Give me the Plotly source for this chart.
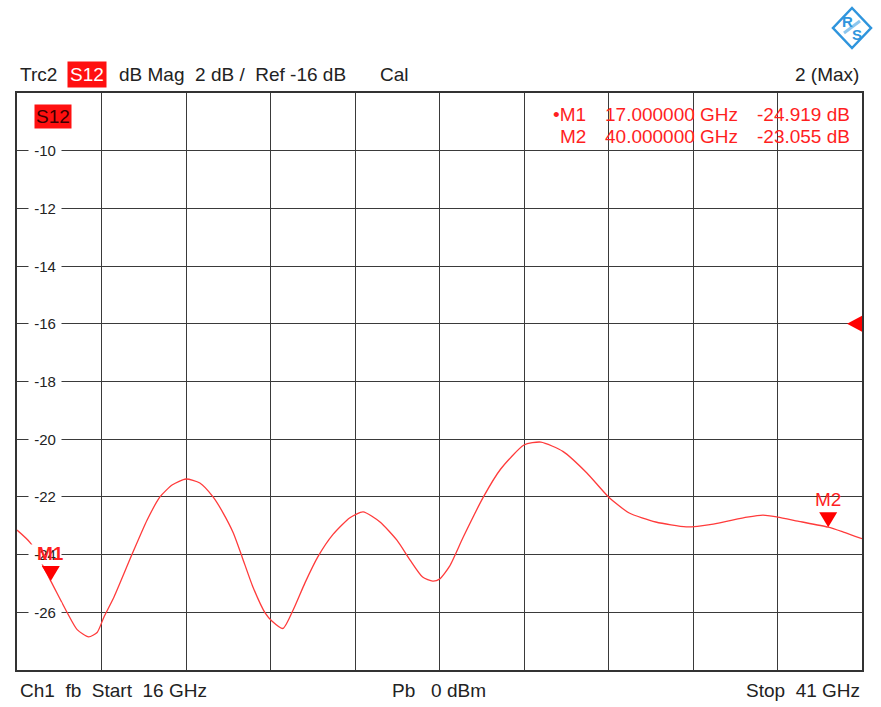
import plotly.graph_objects as go

# ---- data ----
freq_ghz = [16.0, 16.4, 17.0, 17.48, 17.78, 18.12, 18.37, 18.57, 18.87, 19.4, 19.85, 20.23, 20.6,
            21.0, 21.41, 21.8, 22.1, 22.4, 22.66, 22.98, 23.34, 23.54, 23.87, 24.17, 24.52, 24.9,
            25.35, 25.85, 26.24, 26.74, 27.24, 27.63, 28.0, 28.3, 28.5, 28.8, 29.2, 29.8, 30.3,
            31.0, 31.5, 32.16, 32.86, 33.5, 34.1, 34.9, 35.8, 36.6, 37.6, 38.07, 38.5, 39.1, 40.0,
            40.45, 41.0]
s12_db = [-23.15, -23.6, -24.92, -26.0, -26.6, -26.85, -26.7, -26.17, -25.47, -24.0, -22.8, -22.0,
          -21.58, -21.38, -21.52, -22.0, -22.56, -23.25, -24.08, -25.12, -26.02, -26.3, -26.56,
          -25.92, -24.98, -24.08, -23.3, -22.72, -22.52, -22.87, -23.5, -24.19, -24.78, -24.92,
          -24.85, -24.4, -23.4, -22.0, -21.05, -20.2, -20.1, -20.43, -21.17, -22.0, -22.55, -22.87,
          -23.04, -22.94, -22.7, -22.63, -22.7, -22.84, -23.05, -23.22, -23.45]

marker_names = ["M1", "M2"]
marker_freq = [17.0, 40.0]
marker_db = [-24.919, -23.055]

y_tick_vals = [-10, -12, -14, -16, -18, -20, -22, -24, -26]
x_start, x_stop, x_div = 16.0, 41.0, 2.5
y_min, y_max, y_div = -28.0, -8.0, 2.0
ref_level = -16.0

FONT = "Liberation Sans, Arial, sans-serif"
RED = "#ff1f1f"

fig = go.Figure()
fig.add_trace(go.Scatter(x=freq_ghz, y=s12_db, mode="lines",
                         line=dict(color="#ff3b3b", width=1.3, shape="spline", smoothing=0.6),
                         hoverinfo="skip", showlegend=False))

W, H = 881, 707
ml, mr, mt, mb = 17, 19, 93, 37
pw, ph = W - ml - mr, H - mt - mb

def px(x):
    return (x - ml) / pw

def py(y):
    return (H - mb - y) / ph

annotations = []
# y tick labels inside the plot with white background
for v in y_tick_vals:
    annotations.append(dict(x=px(45), y=v, xref="paper", yref="y", text="\u00a0%d\u00a0" % v,
                            showarrow=False, bgcolor="white", borderpad=1,
                            font=dict(family=FONT, size=15, color="#222"), xanchor="center", yanchor="middle"))

# header
hdr_y = py(74)
annotations += [
    dict(x=px(18), y=hdr_y, text="Trc2", xanchor="left"),
    dict(x=px(87), y=hdr_y, text="S12", xanchor="center", bgcolor="#ff1010", font_color="white", borderpad=2),
    dict(x=px(117), y=hdr_y, text="dB\u00a0Mag\u00a0\u00a02\u00a0dB\u00a0/\u00a0\u00a0Ref\u00a0-16\u00a0dB", xanchor="left"),
    dict(x=px(378), y=hdr_y, text="Cal", xanchor="left"),
    dict(x=px(861), y=hdr_y, text="2\u00a0(Max)", xanchor="right"),
]
# footer
ft_y = py(690)
annotations += [
    dict(x=px(18), y=ft_y, text="Ch1\u00a0\u00a0fb\u00a0\u00a0Start\u00a0\u00a016\u00a0GHz", xanchor="left"),
    dict(x=px(390), y=ft_y, text="Pb\u00a0\u00a0\u00a00\u00a0dBm", xanchor="left"),
    dict(x=px(862), y=ft_y, text="Stop\u00a0\u00a041\u00a0GHz", xanchor="right"),
]
for a in annotations[len(y_tick_vals):]:
    a.setdefault("xref", "paper")
    a.setdefault("yref", "paper")
    a.setdefault("showarrow", False)
    a.setdefault("yanchor", "middle")
    if "font_color" in a:
        a["font"] = dict(family=FONT, size=19, color=a.pop("font_color"))
    a.setdefault("font", dict(family=FONT, size=19, color="#222"))

# trace label inside plot
annotations.append(dict(x=px(53), y=py(117), xref="paper", yref="paper", text="S12", showarrow=False,
                        bgcolor="#ff1010", borderpad=1, font=dict(family=FONT, size=19, color="#3a0000"),
                        xanchor="center", yanchor="middle"))

# marker table
row_y = [py(114), py(136)]
for i, (n, f, d) in enumerate(zip(marker_names, marker_freq, marker_db)):
    name = ("\u2022" if i == 0 else "") + n
    annotations.append(dict(x=px(588), y=row_y[i], xref="paper", yref="paper", text=name, showarrow=False,
                            xanchor="right", yanchor="middle", font=dict(family=FONT, size=19, color=RED)))
    annotations.append(dict(x=px(740), y=row_y[i], xref="paper", yref="paper", text="%.6f\u00a0GHz" % f,
                            showarrow=False, xanchor="right", yanchor="middle", font=dict(family=FONT, size=19, color=RED)))
    annotations.append(dict(x=px(852), y=row_y[i], xref="paper", yref="paper", text="%.3f\u00a0dB" % d,
                            showarrow=False, xanchor="right", yanchor="middle", font=dict(family=FONT, size=19, color=RED)))

# marker labels on the trace
for i, (n, f, d) in enumerate(zip(marker_names, marker_freq, marker_db)):
    annotations.append(dict(x=f, y=d, xref="x", yref="y", text=("<b>%s</b>" % n) if i == 0 else n,
                            showarrow=False, yshift=28, xanchor="center", yanchor="middle",
                            font=dict(family=FONT, size=19, color=RED)))

# R&S logo letters
annotations.append(dict(x=px(847), y=py(22), xref="paper", yref="paper", text="<b>R</b>", showarrow=False,
                        font=dict(family=FONT, size=15, color="#2f95dd"), xanchor="center", yanchor="middle"))
annotations.append(dict(x=px(857), y=py(35), xref="paper", yref="paper", text="<b>S</b>", showarrow=False,
                        font=dict(family=FONT, size=15, color="#2f95dd"), xanchor="center", yanchor="middle"))

shapes = []
# marker triangles (tip on the trace point)
for f, d in zip(marker_freq, marker_db):
    shapes.append(dict(type="path", xref="x", yref="y", xsizemode="pixel", ysizemode="pixel",
                       xanchor=f, yanchor=d, path="M -9 15 L 9 15 L 0 0 Z",
                       fillcolor="#ff0000", line=dict(width=0)))
# reference level triangle on the right edge
shapes.append(dict(type="path", xref="paper", yref="y", xsizemode="pixel", ysizemode="pixel",
                   xanchor=1, yanchor=ref_level, path="M 0 8 L 0 -8 L -15 0 Z",
                   fillcolor="#ff0000", line=dict(width=0)))
# R&S logo diamond
shapes.append(dict(type="path", xref="paper", yref="paper", xsizemode="pixel", ysizemode="pixel",
                   xanchor=px(852), yanchor=py(28), path="M 0 20 L 19 0 L 0 -20 L -19 0 Z",
                   fillcolor="white", line=dict(color="#2f95dd", width=2.5)))
shapes.append(dict(type="path", xref="paper", yref="paper", xsizemode="pixel", ysizemode="pixel",
                   xanchor=px(852), yanchor=py(28), path="M -8 -5 L 8 7",
                   line=dict(color="#8cc6ee", width=3)))

fig.update_layout(
    width=W, height=H,
    margin=dict(l=ml, r=mr, t=mt, b=mb),
    paper_bgcolor="white", plot_bgcolor="white",
    showlegend=False,
    xaxis=dict(range=[x_start, x_stop], tick0=x_start, dtick=x_div, showticklabels=False, ticks="",
               showgrid=True, gridcolor="#3a3a3a", gridwidth=1.2, zeroline=False,
               showline=True, mirror=True, linecolor="#333", linewidth=1.5, fixedrange=True),
    yaxis=dict(range=[y_min, y_max], tick0=y_min, dtick=y_div, showticklabels=False, ticks="",
               showgrid=True, gridcolor="#3a3a3a", gridwidth=1.2, zeroline=False,
               showline=True, mirror=True, linecolor="#333", linewidth=1.5, fixedrange=True),
    annotations=annotations,
    shapes=shapes,
)

fig.write_html("out.html", config={"displayModeBar": False},
               post_script="document.body.style.margin='0';document.body.style.overflow='hidden';")
